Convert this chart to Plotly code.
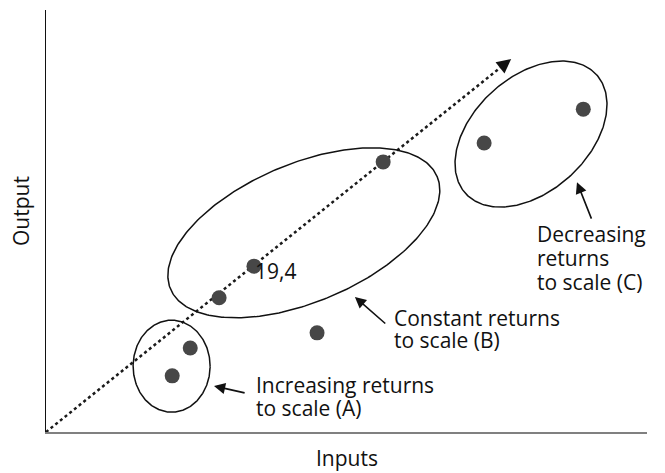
import numpy as np
import plotly.graph_objects as go

# ---- data (arbitrary units: inputs / output, 0-100) ----
inputs = [21.0, 24.0, 28.8, 34.6, 45.1, 56.1, 72.9, 89.4]
output = [13.3, 19.9, 31.8, 39.3, 23.5, 64.0, 68.5, 76.5]
point_label = "19,4"
label_index = 3

ray_end = (77.4, 88.4)

# ellipse groups: centre (data), semi-axes (px), rotation (deg)
group_centres_x = [20.9, 42.9, 80.7]
group_centres_y = [15.6, 47.2, 70.6]
group_a = [38.5, 144.7, 88.4]
group_b = [46.0, 69.1, 57.4]
group_rot = [0.0, 22.9, 42.2]

# page is 665x473; the browser's default 8px body margin offsets the figure
OFF = 8
W, H = 665 - OFF, 473 - OFF
PLOT_L, PLOT_T, PLOT_R, PLOT_B = 46, 10, 647, 432   # plot area in page pixels
ML, MT = PLOT_L - OFF, PLOT_T - OFF
MR, MB = 665 - PLOT_R, 473 - PLOT_B
PW, PH = PLOT_R - PLOT_L, PLOT_B - PLOT_T
sx, sy = PW / 100.0, PH / 100.0   # px per data unit

FONT = "Open Sans"
TXT = "#111111"
FS = 21

fig = go.Figure()

# dotted ray (with arrow head as annotation)
ux, uy = ray_end[0] * sx, ray_end[1] * sy
L = np.hypot(ux, uy)
back = 14.0
rx0 = ray_end[0] - back * (ux / L) / sx
ry0 = ray_end[1] - back * (uy / L) / sy
fig.add_trace(go.Scatter(x=[0, rx0], y=[0, ry0], mode="lines",
                         line=dict(color="#1a1a1a", width=2.5, dash="dot"),
                         hoverinfo="skip", showlegend=False))

# ellipses
t = np.linspace(0, 2 * np.pi, 300)
for cx, cy, a, b, rot in zip(group_centres_x, group_centres_y, group_a, group_b, group_rot):
    th = np.deg2rad(rot)
    dx = a * np.cos(t) * np.cos(th) - b * np.sin(t) * np.sin(th)
    dy = a * np.cos(t) * np.sin(th) + b * np.sin(t) * np.cos(th)
    fig.add_trace(go.Scatter(x=cx + dx / sx, y=cy + dy / sy, mode="lines",
                             line=dict(color="#111111", width=1.5),
                             hoverinfo="skip", showlegend=False))

# points
fig.add_trace(go.Scatter(x=inputs, y=output, mode="markers",
                         marker=dict(size=15, color="#474747"),
                         showlegend=False))

ann = []
# arrow head of ray
ann.append(dict(x=ray_end[0], y=ray_end[1], ax=rx0, ay=ry0, xref="x", yref="y",
                axref="x", ayref="y", text="", showarrow=True, arrowhead=2,
                arrowsize=1.3, arrowwidth=2.2, arrowcolor="#111111", standoff=0))

# pointer arrows: (tip_x, tip_y, tail_x, tail_y)
arrows = [(27.95, 10.9, 33.3, 9.2), (51.4, 32.0, 56.7, 25.4), (88.35, 59.2, 90.85, 50.2)]
for tx, ty, qx, qy in arrows:
    ann.append(dict(x=tx, y=ty, ax=qx, ay=qy, xref="x", yref="y", axref="x", ayref="y",
                    text="", showarrow=True, arrowhead=2, arrowsize=1.4, arrowwidth=1.6,
                    arrowcolor="#111111", standoff=0))

# text lines: (x, y, text)
lines = [
    (34.6, 11.1, "Increasing returns"), (34.6, 5.7, "to scale (A)"),
    (57.6, 27.0, "Constant returns"), (57.6, 21.8, "to scale (B)"),
    (81.4, 46.9, "Decreasing"), (81.4, 41.2, "returns"), (81.4, 35.5, "to scale (C)"),
]
for x, y, s in lines:
    ann.append(dict(x=x, y=y, xref="x", yref="y", text=s, showarrow=False,
                    xanchor="left", yanchor="middle", font=dict(family=FONT, size=FS, color=TXT)))

ann.append(dict(x=inputs[label_index] - 0.2, y=output[label_index] - 1.1, xref="x", yref="y",
                text=point_label, showarrow=False, xanchor="left", yanchor="middle",
                font=dict(family=FONT, size=FS, color=TXT)))

# axis titles (page pixel centres converted to paper coords)
ann.append(dict(x=(347 - PLOT_L) / PW, y=-(458 - PLOT_B) / PH, xref="paper", yref="paper",
                text="Inputs", showarrow=False, xanchor="center", yanchor="middle",
                font=dict(family=FONT, size=FS, color=TXT)))
ann.append(dict(x=-(PLOT_L - 21) / PW, y=(PLOT_B - 211) / PH, xref="paper", yref="paper",
                text="Output", showarrow=False, xanchor="center", yanchor="middle", textangle=-90,
                font=dict(family=FONT, size=FS, color=TXT)))

fig.update_layout(
    width=W, height=H, margin=dict(l=ML, r=MR, t=MT, b=MB),
    paper_bgcolor="white", plot_bgcolor="white",
    xaxis=dict(range=[0, 100], showline=True, linecolor="#808080", linewidth=2,
               showticklabels=False, ticks="", showgrid=False, zeroline=False, fixedrange=True),
    yaxis=dict(range=[0, 100], showline=True, linecolor="#111111", linewidth=1,
               showticklabels=False, ticks="", showgrid=False, zeroline=False, fixedrange=True),
    annotations=ann,
    showlegend=False,
)

fig.write_html("out.html")
